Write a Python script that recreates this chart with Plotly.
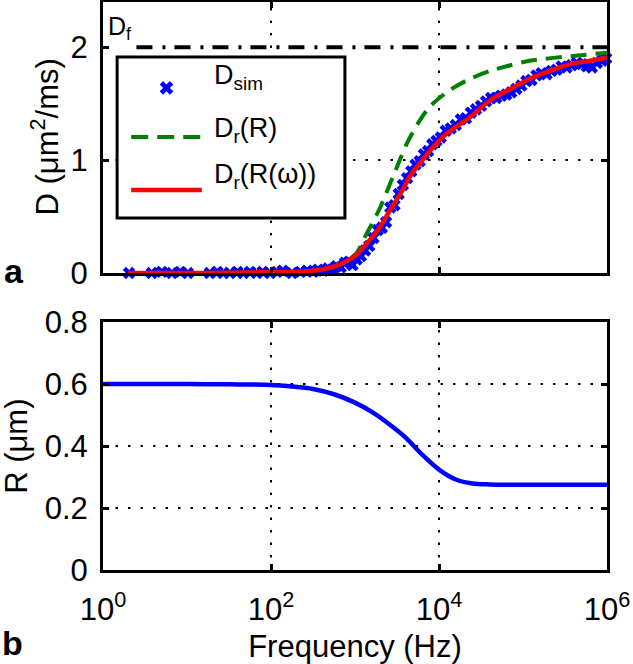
import numpy as np
import plotly.graph_objects as go

# ---------------- data ----------------
# simulated D (markers), log10 of frequency in Hz
dsim_logf = [0.31, 0.58, 0.70, 0.82, 0.92, 1.01, 1.27, 1.36, 1.43, 1.51, 1.60, 1.67,
             1.75, 1.83, 1.90, 1.99, 2.07, 2.14, 2.25, 2.35, 2.43, 2.50,
             2.56, 2.62, 2.68, 2.73, 2.78, 2.83, 2.88, 2.93, 2.97, 3.02, 3.07, 3.12,
             3.17, 3.22, 3.27, 3.32, 3.37, 3.42, 3.47, 3.52, 3.57, 3.62, 3.67, 3.72,
             3.77, 3.82, 3.87, 3.92, 3.97, 4.02, 4.08, 4.14, 4.20, 4.26, 4.32, 4.38,
             4.44, 4.50, 4.56, 4.62, 4.68, 4.74, 4.80, 4.86, 4.92, 4.98, 5.04, 5.10,
             5.16, 5.22, 5.28, 5.34, 5.40, 5.46, 5.52, 5.58, 5.64, 5.70, 5.76, 5.82,
             5.88, 5.94, 5.99]
dsim_D = [0.00, 0.00, 0.01, 0.00, 0.01, 0.00, 0.00, 0.01, 0.00, 0.00, 0.01, 0.00,
          0.01, 0.00, 0.01, 0.00, 0.01, 0.02, 0.00, 0.01, 0.02, 0.01,
          0.03, 0.02, 0.04, 0.03, 0.06, 0.05, 0.09, 0.10, 0.07, 0.12, 0.15, 0.20,
          0.24, 0.31, 0.38, 0.40, 0.45, 0.58, 0.60, 0.70, 0.78, 0.84, 0.90, 0.96,
          0.99, 1.05, 1.08, 1.14, 1.17, 1.20, 1.26, 1.28, 1.31, 1.36, 1.37, 1.42,
          1.45, 1.48, 1.52, 1.55, 1.55, 1.57, 1.58, 1.60, 1.63, 1.66, 1.70, 1.71,
          1.75, 1.77, 1.76, 1.79, 1.80, 1.83, 1.82, 1.84, 1.86, 1.85, 1.83, 1.82,
          1.86, 1.88, 1.90]

# D_r(R) : green dashed
drR_logf = [0.30, 1.00, 2.00, 2.35, 2.60, 2.80, 3.00, 3.14, 3.30, 3.45, 3.62, 3.77,
            3.90, 4.13, 4.37, 4.61, 4.85, 5.08, 5.56, 6.00]
drR_D = [0.00, 0.00, 0.006, 0.012, 0.03, 0.07, 0.16, 0.35, 0.58, 0.85, 1.15, 1.35,
         1.48, 1.62, 1.72, 1.79, 1.84, 1.88, 1.92, 1.95]

# D_r(R(omega)) : red solid
drRw_logf = [0.30, 1.00, 1.50, 2.00, 2.35, 2.60, 2.80, 3.00, 3.15, 3.30, 3.42, 3.54,
             3.65, 3.77, 3.90, 4.10, 4.37, 4.61, 4.85, 5.08, 5.32, 5.56, 5.80, 6.00]
drRw_D = [0.00, 0.00, 0.002, 0.006, 0.012, 0.03, 0.07, 0.15, 0.27, 0.41, 0.56, 0.70,
          0.85, 0.97, 1.09, 1.24, 1.38, 1.53, 1.63, 1.72, 1.79, 1.85, 1.88, 1.91]

# free diffusivity D_f
Df_value = 2.0
Df_freq = [2.5, 1e6]

# R(omega) : bottom panel
R_logf = [0.0, 0.5, 1.0, 1.5, 2.0, 2.25, 2.5, 2.75, 3.0, 3.2, 3.4, 3.6, 3.8, 4.0,
          4.2, 4.4, 4.6, 5.0, 5.5, 6.0]
R_um = [0.600, 0.600, 0.600, 0.599, 0.597, 0.592, 0.584, 0.567, 0.540, 0.510, 0.472,
        0.428, 0.372, 0.324, 0.292, 0.279, 0.276, 0.275, 0.275, 0.275]

x_tickvals = [1, 1e2, 1e4, 1e6]
x_ticktext = ["10<sup>0</sup>", "10<sup>2</sup>", "10<sup>4</sup>", "10<sup>6</sup>"]
yD_tickvals = [0, 1, 2]
yR_tickvals = [0, 0.2, 0.4, 0.6, 0.8]
yR_ticktext = ["0", "0.2", "0.4", "0.6", "0.8"]

legend_labels = ["D<sub>sim</sub>", "D<sub>r</sub>(R)", "D<sub>r</sub>(R(ω))"]
yD_title = "D (μm<sup>2</sup>/ms)"
yR_title = "R (μm)"
x_title = "Frequency (Hz)"

# ---------------- styling ----------------
FONT = "Liberation Sans, Arial, Helvetica, sans-serif"
BLUE = "#0000ff"
GREEN = "#008000"
RED = "#ff0000"
TICK_SIZE = 31
X_RANGE_LOG = [0, 6]
YD_RANGE = [0, 2.4]
YR_RANGE = [0, 0.8]
TOP_DOMAIN = [0.5229, 1.0]
BOT_DOMAIN = [0.0, 0.4366]
GRID = dict(color="black", width=2, dash="2.5px,10px")

fig = go.Figure()

fig.add_trace(go.Scatter(
    x=10 ** np.array(dsim_logf), y=dsim_D, mode="markers",
    marker=dict(symbol="x", size=11, color=BLUE, line=dict(width=0)),
    cliponaxis=False, xaxis="x", yaxis="y", showlegend=False, name="D_sim"))
fig.add_trace(go.Scatter(
    x=10 ** np.array(drR_logf), y=drR_D, mode="lines",
    line=dict(color=GREEN, width=4, dash="16px,9px", shape="spline", smoothing=0.8),
    xaxis="x", yaxis="y", showlegend=False, name="D_r(R)"))
fig.add_trace(go.Scatter(
    x=10 ** np.array(drRw_logf), y=drRw_D, mode="lines",
    line=dict(color=RED, width=4.5, shape="spline", smoothing=0.8),
    xaxis="x", yaxis="y", showlegend=False, name="D_r(R(w))"))
fig.add_trace(go.Scatter(
    x=Df_freq, y=[Df_value, Df_value], mode="lines",
    line=dict(color="black", width=4, dash="16px,10px,3px,9px"),
    xaxis="x", yaxis="y", showlegend=False, name="D_f"))
fig.add_trace(go.Scatter(
    x=10 ** np.array(R_logf), y=R_um, mode="lines",
    line=dict(color=BLUE, width=4.5, shape="spline", smoothing=0.8),
    xaxis="x2", yaxis="y2", showlegend=False, name="R"))

# ---- manual legend (box geometry in top-panel domain fractions) ----
LX0, LX1, LY0, LY1 = 0.028, 0.480, 0.203, 0.797
SYM_X0, SYM_X1 = 0.056, 0.196
TXT_X = 0.216
ROW_Y = [0.683, 0.502, 0.306]
TXT_Y = [0.725, 0.528, 0.357]

sx = (SYM_X0 + SYM_X1) / 2
fig.add_trace(go.Scatter(
    x=[10 ** (X_RANGE_LOG[0] + sx * (X_RANGE_LOG[1] - X_RANGE_LOG[0]))],
    y=[YD_RANGE[0] + ROW_Y[0] * (YD_RANGE[1] - YD_RANGE[0])], mode="markers",
    marker=dict(symbol="x", size=12, color=BLUE, line=dict(width=0)),
    xaxis="x", yaxis="y", showlegend=False, hoverinfo="skip"))

# ---- dotted grid lines (drawn as shapes so the legend box can hide them) ----
shapes = []
for xv in x_tickvals[1:-1]:
    for xr, yr in (("x", "y"), ("x2", "y2")):
        shapes.append(dict(type="line", xref=xr, yref=yr + " domain",
                           x0=xv, x1=xv, y0=0, y1=1, line=GRID, layer="below"))
for yv in yD_tickvals[1:-1]:
    shapes.append(dict(type="line", xref="x domain", yref="y", x0=0, x1=1,
                       y0=yv, y1=yv, line=GRID, layer="below"))
for yv in yR_tickvals[1:-1]:
    shapes.append(dict(type="line", xref="x2 domain", yref="y2", x0=0, x1=1,
                       y0=yv, y1=yv, line=GRID, layer="below"))

shapes += [
    dict(type="rect", xref="x domain", yref="y domain", x0=LX0, x1=LX1, y0=LY0, y1=LY1,
         fillcolor="white", line=dict(color="black", width=3), layer="below"),
    dict(type="line", xref="x domain", yref="y domain", x0=SYM_X0, x1=SYM_X1,
         y0=ROW_Y[1], y1=ROW_Y[1], line=dict(color=GREEN, width=4, dash="17px,9px"),
         layer="below"),
    dict(type="line", xref="x domain", yref="y domain", x0=SYM_X0, x1=SYM_X1,
         y0=ROW_Y[2], y1=ROW_Y[2], line=dict(color=RED, width=4.5), layer="below"),
]

annotations = []
for lab, ty in zip(legend_labels, TXT_Y):
    annotations.append(dict(text=lab, xref="x domain", yref="y domain", x=TXT_X, y=ty,
                            xanchor="left", yanchor="middle", showarrow=False,
                            font=dict(size=27, color="black", family=FONT)))
annotations.append(dict(text="D<sub>f</sub>", xref="x domain", yref="y domain",
                        x=0.006, y=0.905, xanchor="left", yanchor="middle",
                        showarrow=False, font=dict(size=25, color="black", family=FONT)))
annotations.append(dict(text="<b>a</b>", xref="paper", yref="paper", x=-0.200, y=0.526,
                        xanchor="left", yanchor="middle", showarrow=False,
                        font=dict(size=34, color="black", family=FONT)))
annotations.append(dict(text="<b>b</b>", xref="paper", yref="paper", x=-0.204, y=-0.128,
                        xanchor="left", yanchor="middle", showarrow=False,
                        font=dict(size=34, color="black", family=FONT)))
# y-axis titles
annotations.append(dict(text=yD_title, xref="paper", yref="paper", x=-0.115,
                        y=sum(TOP_DOMAIN) / 2, textangle=-90, xanchor="center",
                        yanchor="middle", showarrow=False,
                        font=dict(size=TICK_SIZE, color="black", family=FONT)))
annotations.append(dict(text=yR_title, xref="paper", yref="paper", x=-0.173,
                        y=sum(BOT_DOMAIN) / 2, textangle=-90, xanchor="center",
                        yanchor="middle", showarrow=False,
                        font=dict(size=TICK_SIZE, color="black", family=FONT)))

axis_common = dict(
    showline=True, linecolor="black", linewidth=3, mirror="ticks",
    ticks="inside", ticklen=6, tickwidth=3, tickcolor="black",
    showgrid=False, zeroline=False, automargin=False,
    tickfont=dict(size=TICK_SIZE, color="black", family=FONT),
)

fig.update_layout(
    width=633, height=664,
    margin=dict(l=103, r=26, t=2, b=94),
    paper_bgcolor="white", plot_bgcolor="white",
    font=dict(family=FONT, color="black"),
    showlegend=False,
    xaxis=dict(axis_common, type="log", range=X_RANGE_LOG, tickvals=x_tickvals,
               showticklabels=False, anchor="y", domain=[0, 1]),
    yaxis=dict(axis_common, range=YD_RANGE, tickvals=yD_tickvals, anchor="x",
               domain=TOP_DOMAIN, ticklabelstandoff=6),
    xaxis2=dict(axis_common, type="log", range=X_RANGE_LOG, tickvals=x_tickvals,
                ticktext=x_ticktext, anchor="y2", domain=[0, 1], ticklabelstandoff=10,
                title=dict(text=x_title, standoff=12,
                           font=dict(size=TICK_SIZE, color="black", family=FONT))),
    yaxis2=dict(axis_common, range=YR_RANGE, tickvals=yR_tickvals, ticktext=yR_ticktext,
                anchor="x2", domain=BOT_DOMAIN, ticklabelstandoff=6),
    shapes=shapes,
    annotations=annotations,
)

fig.write_html("out.html", post_script="document.body.style.margin='0px';",
               config={"displayModeBar": False})
